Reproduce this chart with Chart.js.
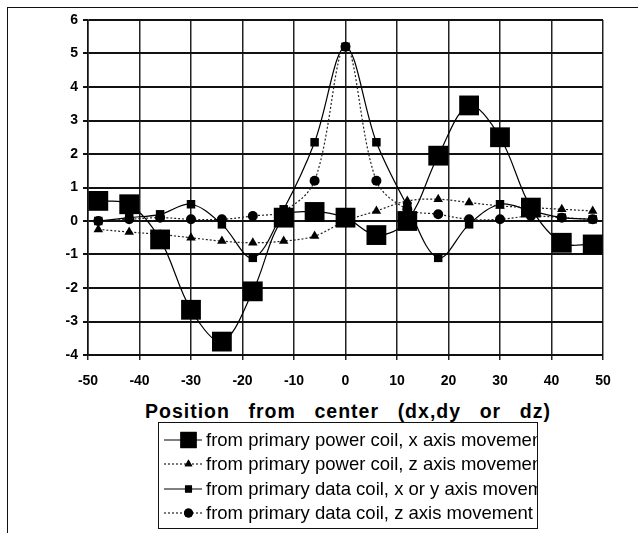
<!DOCTYPE html>
<html lang="en">
<head>
  <meta charset="UTF-8">
  <title>Position from center</title>
  <style>
    body {
      margin: 0;
      width: 638px;
      height: 533px;
      background: #fff;
      font-family: "Liberation Sans", Arial, sans-serif;
      position: relative;
      overflow: hidden;
    }
    .frame {
      position: absolute;
      left: 7px;
      top: 7px;
      width: 640px;
      height: 540px;
      border-top: 1.5px solid #111;
      border-left: 1.5px solid #111;
    }
    #chart {
      position: absolute;
      left: 0;
      top: 0;
    }
    .title {
      position: absolute;
      left: 145px;
      top: 401px;
      width: 406px;
      display: flex;
      justify-content: space-between;
      font-weight: bold;
      font-size: 19.5px;
      line-height: 21px;
      letter-spacing: 1px;
      color: #000;
      white-space: nowrap;
    }
    .legend {
      position: absolute;
      left: 158px;
      top: 422px;
      width: 380px;
      height: 107px;
      border: 1.5px solid #111;
      overflow: hidden;
      padding-top: 5px;
      box-sizing: border-box;
    }
    .row {
      height: 24.3px;
      display: flex;
      align-items: center;
      white-space: nowrap;
      font-size: 18.5px;
      color: #000;
    }
    .row canvas {
      margin-left: 5px;
      margin-right: 4px;
      flex: none;
    }
  </style>
  <script src="https://cdn.jsdelivr.net/npm/chart.js"></script>
</head>
<body>
  <div class="frame"></div>
  <canvas id="chart" width="638" height="400"></canvas>
  <div class="title" id="title"></div>
  <div class="legend" id="legend"></div>

  <script>
    // positions along the axis (dx, dy or dz)
    const positions = [-48, -42, -36, -30, -24, -18, -12, -6, 0, 6, 12, 18, 24, 30, 36, 42, 48];

    const powerCoilX = [0.6, 0.5, -0.55, -2.65, -3.6, -2.1, 0.1, 0.27, 0.1, -0.42, 0, 1.95, 3.45, 2.5, 0.4, -0.65, -0.7];
    const powerCoilZ = [-0.25, -0.33, -0.4, -0.5, -0.6, -0.65, -0.6, -0.45, 0.0, 0.3, 0.6, 0.65, 0.55, 0.45, 0.4, 0.35, 0.3];
    const dataCoilXY = [0, 0.1, 0.2, 0.5, -0.1, -1.1, 0.35, 2.35, 5.2, 2.35, 0.45, -1.1, -0.1, 0.5, 0.3, 0.1, 0.05];
    const dataCoilZ = [0, 0.05, 0.1, 0.05, 0.05, 0.15, 0.3, 1.2, 5.2, 1.2, 0.35, 0.2, 0.05, 0.05, 0.15, 0.1, 0.05];

    const seriesLabels = [
      'from primary power coil, x axis movement',
      'from primary power coil, z axis movement',
      'from primary data coil, x or y axis movement',
      'from primary data coil, z axis movement'
    ];

    const xTicks = [-50, -40, -30, -20, -10, 0, 10, 20, 30, 40, 50];
    const yTicks = [-4, -3, -2, -1, 0, 1, 2, 3, 4, 5, 6];
    const titleWords = ['Position', 'from', 'center', '(dx,dy', 'or', 'dz)'];

    const styles = [
      { pointStyle: 'rect', radius: 14, dash: [], legendRadius: 11.5, color: '#000' },
      { pointStyle: 'triangle', radius: 5.5, dash: [2, 2], legendRadius: 4.5, color: '#222' },
      { pointStyle: 'rect', radius: 6, dash: [], legendRadius: 5, color: '#000' },
      { pointStyle: 'circle', radius: 5, dash: [2, 2], legendRadius: 4.5, color: '#222' }
    ];

    const allSeries = [powerCoilX, powerCoilZ, dataCoilXY, dataCoilZ];

    const datasets = allSeries.map((vals, i) => ({
      label: seriesLabels[i],
      data: vals.map((v, j) => ({ x: positions[j], y: v })),
      borderColor: styles[i].color,
      backgroundColor: '#000',
      borderWidth: 1.2,
      borderDash: styles[i].dash,
      pointStyle: styles[i].pointStyle,
      pointRadius: styles[i].radius,
      pointBorderWidth: 0,
      pointBackgroundColor: '#000',
      tension: 0.35,
      fill: false,
      clip: false
    }));

    const tickFont = { family: '"Liberation Sans", Arial, sans-serif', size: 14, weight: 'bold' };

    const chart = new Chart(document.getElementById('chart'), {
      type: 'line',
      data: { datasets },
      options: {
        responsive: false,
        animation: false,
        devicePixelRatio: 1,
        layout: { padding: { top: 20, right: 35, left: 0, bottom: 0 } },
        plugins: {
          legend: { display: false },
          tooltip: { enabled: false }
        },
        scales: {
          x: {
            type: 'linear',
            min: -50,
            max: 50,
            afterBuildTicks: s => { s.ticks = xTicks.map(v => ({ value: v })); },
            afterFit: s => { s.height = 45; },
            ticks: { font: tickFont, color: '#000', padding: 13, maxRotation: 0 },
            grid: { color: '#222', lineWidth: 1.5, tickLength: 5 },
            border: { color: '#111', width: 1.5 }
          },
          y: {
            type: 'linear',
            min: -4,
            max: 6,
            afterBuildTicks: s => { s.ticks = yTicks.map(v => ({ value: v })); },
            afterFit: s => { s.width = 88; },
            ticks: { font: tickFont, color: '#000', padding: 5 },
            grid: { color: '#111', lineWidth: 2, tickLength: 5 },
            border: { color: '#111', width: 1.5 }
          }
        }
      }
    });

    // axis title with wide word spacing
    const title = document.getElementById('title');
    titleWords.forEach(w => {
      const s = document.createElement('span');
      s.textContent = w;
      title.appendChild(s);
    });

    // legend, clipped at the box edge like the original
    const legend = document.getElementById('legend');
    seriesLabels.forEach((label, i) => {
      const row = document.createElement('div');
      row.className = 'row';
      const c = document.createElement('canvas');
      c.width = 38;
      c.height = 24;
      const ctx = c.getContext('2d');
      ctx.strokeStyle = styles[i].color;
      ctx.lineWidth = 1.2;
      ctx.setLineDash(styles[i].dash);
      ctx.beginPath();
      ctx.moveTo(0, 12);
      ctx.lineTo(38, 12);
      ctx.stroke();
      ctx.setLineDash([]);
      ctx.fillStyle = '#000';
      Chart.helpers.drawPoint(ctx, {
        pointStyle: styles[i].pointStyle,
        radius: styles[i].legendRadius,
        borderWidth: 0
      }, 24.5, 12);
      ctx.fill();
      row.appendChild(c);
      const t = document.createElement('span');
      t.textContent = label;
      row.appendChild(t);
      legend.appendChild(row);
    });
  </script>
</body>
</html>
